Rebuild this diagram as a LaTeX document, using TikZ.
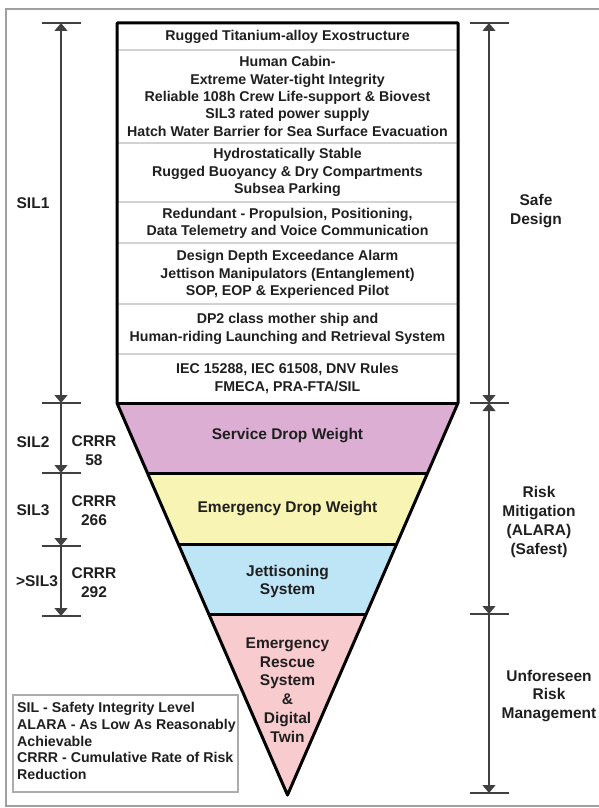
\documentclass[tikz,border=0pt]{standalone}
\usepackage{fontspec}
\setmainfont{Liberation Sans}
\usetikzlibrary{arrows.meta,calc}
\definecolor{serviceC}{RGB}{221,174,211}
\definecolor{emergC}{RGB}{248,244,180}
\definecolor{jettC}{RGB}{189,229,246}
\definecolor{rescueC}{RGB}{248,203,206}
\begin{document}
\begin{tikzpicture}[x=1pt,y=-1pt,
  lbl/.style={font=\fontsize{14.2}{17.3}\selectfont\bfseries, align=center, inner sep=0pt, text=black!88},
  biglbl/.style={lbl, font=\fontsize{15.5}{18.7}\selectfont\bfseries},
  frameline/.style={draw=gray!75, line width=1.6pt},
  outline/.style={draw=black, line width=3pt, line join=round},
  divider/.style={draw=gray!35, line width=2pt},
  dimline/.style={draw=black!75, line width=1.1pt},
  tickline/.style={draw=black!75, line width=1.1pt},
  tip/.tip={Triangle[width=13pt,length=8pt]},
  legendframe/.style={draw=gray!65, line width=1.4pt}]
\useasboundingbox (0,0) rectangle (599,808);

% outer frame
\draw[frameline] (604,9) -- (6,9) -- (6,806) -- (604,806);

% box and funnel corners
\coordinate (TL) at (117,23);
\coordinate (TR) at (458,23);
\coordinate (ML) at (117,403);
\coordinate (MR) at (458,403);
\coordinate (AP) at (287.5,795);
\coordinate (L1) at ($(ML)!70/392!(AP)$);
\coordinate (R1) at ($(MR)!70/392!(AP)$);
\coordinate (L2) at ($(ML)!141/392!(AP)$);
\coordinate (R2) at ($(MR)!141/392!(AP)$);
\coordinate (L3) at ($(ML)!211/392!(AP)$);
\coordinate (R3) at ($(MR)!211/392!(AP)$);

% funnel layers
\fill[serviceC] (ML) -- (MR) -- (R1) -- (L1) -- cycle;
\fill[emergC] (L1) -- (R1) -- (R2) -- (L2) -- cycle;
\fill[jettC] (L2) -- (R2) -- (R3) -- (L3) -- cycle;
\fill[rescueC] (L3) -- (R3) -- (AP) -- cycle;

% row dividers in the design box
\foreach \yy in {50,143,202,243,304,354}
  \draw[divider] (117,\yy) -- (458,\yy);

% layer boundaries and outline
\draw[outline] (ML) -- (MR);
\draw[outline] (L1) -- (R1);
\draw[outline] (L2) -- (R2);
\draw[outline] (L3) -- (R3);
\draw[outline] (TL) -- (TR) -- (MR) -- (AP) -- (ML) -- cycle;

% design box rows
\node[lbl] (row1) at (287.5,36.5) {Rugged Titanium-alloy Exostructure};
\node[lbl] (row2) at (287.5,96.5) {Human Cabin-\\Extreme Water-tight Integrity\\Reliable 108h Crew Life-support \& Biovest\\SIL3 rated power supply\\Hatch Water Barrier for Sea Surface Evacuation};
\node[lbl] (row3) at (287.5,172.5) {Hydrostatically Stable\\Rugged Buoyancy \& Dry Compartments\\Subsea Parking};
\node[lbl] (row4) at (287.5,223) {Redundant - Propulsion, Positioning,\\Data Telemetry and Voice Communication};
\node[lbl] (row5) at (287.5,274.5) {Design Depth Exceedance Alarm\\Jettison Manipulators (Entanglement)\\SOP, EOP \& Experienced Pilot};
\node[lbl] (row6) at (287.5,329) {DP2 class mother ship and\\Human-riding Launching and Retrieval System};
\node[lbl] (row7) at (287.5,378.5) {IEC 15288, IEC 61508, DNV Rules\\FMECA, PRA-FTA/SIL};

% funnel labels
\node[biglbl] (service) at (287.5,436) {Service Drop Weight};
\node[biglbl] (emergency) at (287.5,508.5) {Emergency Drop Weight};
\node[biglbl] (jett) at (287.5,581.5) {Jettisoning\\System};
\node[biglbl] (rescue) at (287.5,690) {Emergency\\Rescue\\System\\\&\\Digital\\Twin};

% left dimension lines
\coordinate (la) at (61,23);
\coordinate (lb) at (61,403);
\coordinate (lc) at (61,473);
\coordinate (ld) at (61,546);
\coordinate (le) at (61,616);
\foreach \c in {la,lb,lc,ld,le}
  \draw[tickline] ($(\c)+(-19.5,0)$) -- ($(\c)+(19.5,0)$);
\draw[dimline, tip-tip] (la) -- (lb);
\draw[dimline, -tip] (lb) -- (lc);
\draw[dimline, -tip] (lc) -- (ld);
\draw[dimline, -tip] (ld) -- (le);

% right dimension lines
\coordinate (ra) at (489,23);
\coordinate (rb) at (489,403);
\coordinate (rc) at (489,614);
\coordinate (rd) at (489,793);
\foreach \c in {ra,rb,rc,rd}
  \draw[tickline] ($(\c)+(-19.5,0)$) -- ($(\c)+(19.5,0)$);
\draw[dimline, tip-tip] (ra) -- (rb);
\draw[dimline, tip-tip] (rb) -- (rc);
\draw[dimline, -tip] (rc) -- (rd);

% left labels
\node[biglbl] (sil1) at (33,203) {SIL1};
\node[biglbl] (sil2) at (33,442) {SIL2};
\node[biglbl] (crrr58) at (94,451) {CRRR\\58};
\node[biglbl] (sil3) at (33,510) {SIL3};
\node[biglbl] (crrr266) at (94,511) {CRRR\\266};
\node[biglbl] (sil4) at (37,581) {>SIL3};
\node[biglbl] (crrr292) at (94,582.5) {CRRR\\292};

% right labels
\node[biglbl] (safe) at (536,211) {Safe\\Design};
\node[biglbl] (risk) at (539,522) {Risk\\Mitigation\\(ALARA)\\(Safest)};
\node[biglbl] (unforeseen) at (549,696) {Unforeseen\\Risk\\Management};

% legend
\draw[legendframe] (13,695) rectangle (238,792);
\node[lbl, align=left, anchor=north west, font=\fontsize{14.2}{16.8}\selectfont\bfseries] (legend) at (17,702)
  {SIL - Safety Integrity Level\\ALARA - As Low As Reasonably\\Achievable\\CRRR - Cumulative Rate of Risk\\Reduction};
\end{tikzpicture}
\end{document}
